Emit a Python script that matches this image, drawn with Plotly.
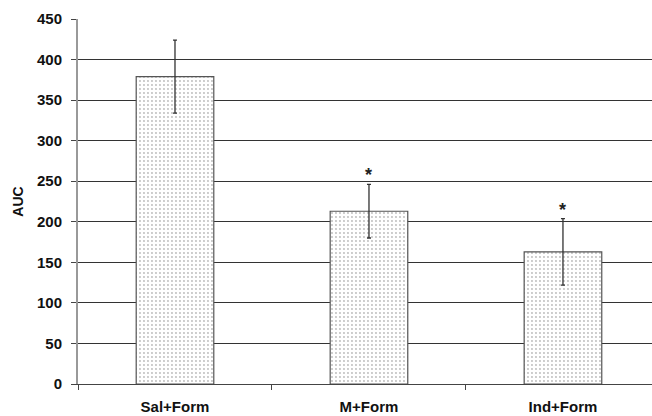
import plotly.graph_objects as go

categories = ["Sal+Form", "M+Form", "Ind+Form"]
auc_mean = [379, 213, 163]
auc_err = [45, 33, 41]
significance = ["", "*", "*"]
y_ticks = [0, 50, 100, 150, 200, 250, 300, 350, 400, 450]

FONT = "Liberation Sans, Arial, sans-serif"

fig = go.Figure()
fig.add_trace(go.Bar(
    x=categories, y=auc_mean, width=0.4,
    marker=dict(
        color="white",
        line=dict(color="#555555", width=1.2),
        pattern=dict(shape=".", fgcolor="#777777", bgcolor="white", size=4, solidity=0.18),
    ),
    error_y=dict(type="data", array=auc_err, visible=True, color="#333333", thickness=1.3, width=2),
    showlegend=False,
))

for c, m, e, s in zip(categories, auc_mean, auc_err, significance):
    if s:
        fig.add_annotation(x=c, y=m + e, text=s, showarrow=False, yanchor="bottom",
                           yshift=-3, font=dict(family=FONT, size=18, color="#222222"))

fig.update_layout(
    width=652, height=416,
    margin=dict(l=78, r=0, t=19, b=32, autoexpand=False),
    plot_bgcolor="white", paper_bgcolor="white",
    font=dict(family=FONT, size=15, color="#111111", weight="bold"),
    bargap=0.6,
)
fig.update_xaxes(
    type="category", range=[-0.5, 2.459], tickson="boundaries", ticks="outside",
    ticklen=5, tickcolor="#444444", showline=True, linecolor="#444444", linewidth=1.3,
    showgrid=False, ticklabelstandoff=9, automargin=False,
    tickfont=dict(family=FONT, size=15, weight="bold"),
)
fig.update_yaxes(
    range=[0, 450], tickvals=y_ticks, ticks="outside", ticklen=5, tickcolor="#444444",
    showline=True, linecolor="#999999", linewidth=2,
    showgrid=True, gridcolor="#333333", gridwidth=1, zeroline=False,
    ticklabelstandoff=6, automargin=False,
    tickfont=dict(family=FONT, size=15, weight="bold"),
    title=dict(text="AUC", font=dict(family=FONT, size=14, weight="bold"), standoff=10),
)

fig.write_html(
    "out.html",
    config={"displayModeBar": False},
    post_script="document.body.style.margin='0';document.body.style.overflow='hidden';",
)
